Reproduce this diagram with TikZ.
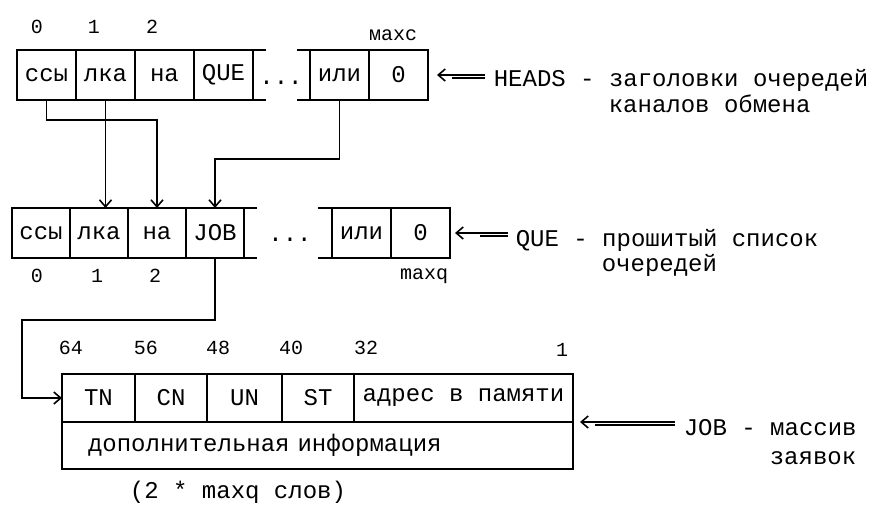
\documentclass[tikz,border=0pt]{standalone}
\usepackage{fontspec}
\setmainfont{Liberation Mono}
\usetikzlibrary{positioning, calc, arrows.meta}

\tikzset{
  cell/.style={draw, minimum height=50pt, minimum width=59pt, inner sep=0pt, outer sep=0pt},
  idx/.style={font=\fontsize{20}{24}\selectfont, inner sep=0pt},
  note/.style={anchor=base west, inner sep=0pt},
}

\begin{document}
\begin{tikzpicture}[x=1pt, y=-1pt, line width=1.6pt,
    >={Straight Barb[length=7pt, width=12pt]},
    font=\fontsize{24}{28}\selectfont]
    \useasboundingbox (0,0) rectangle (875,506);

    % HEADS (top row)
    \node[cell, anchor=west] (h0) at (17,75) {ссы};
    \node[cell, right=0pt of h0] (h1) {лка};
    \node[cell, right=0pt of h1] (h2) {на};
    \node[cell, right=0pt of h2] (h3) {QUE};
    \draw (h3.north east) -- ++(13,0) (h3.south east) -- ++(13,0);
    \node[anchor=base, inner sep=0pt] (hdots) at (281,84) {...};
    \node[cell, anchor=west] (h5) at (310,75) {или};
    \node[cell, right=0pt of h5] (h6) {0};
    \draw (h5.north west) -- ++(-13,0) (h5.south west) -- ++(-13,0);

    \node[idx] (h0i) at (37,27) {0};
    \node[idx] (h1i) at (94,27) {1};
    \node[idx] (h2i) at (152,27) {2};
    \node[idx] (hmax) at (393,35) {махс};

    \node[note] (hnote) at (493,86) {HEADS - заголовки очередей};
    \node[note] (hnote2) at (608,112) {каналов обмена};
    \draw[<-, shorten <=9pt, shorten >=8pt] (h6.east) -- (h6.east -| hnote.west);
    \draw[shorten <=24pt, shorten >=8pt] ([yshift=-3pt]h6.east) -- ([yshift=-3pt]h6.east -| hnote.west);

    % QUE (middle row)
    \node[cell, anchor=west, minimum width=58pt] (q0) at (12,233) {ссы};
    \node[cell, minimum width=58pt, right=0pt of q0] (q1) {лка};
    \node[cell, minimum width=58pt, right=0pt of q1] (q2) {на};
    \node[cell, minimum width=58pt, right=0pt of q2] (q3) {JOB};
    \draw (q3.north east) -- ++(13,0) (q3.south east) -- ++(13,0);
    \node[anchor=base, inner sep=0pt] (qdots) at (290,241) {...};
    \node[cell, anchor=west] (q5) at (332,233) {или};
    \node[cell, right=0pt of q5] (q6) {0};
    \draw (q5.north west) -- ++(-14,0) (q5.south west) -- ++(-14,0);

    \node[idx] (q0i) at (37,276) {0};
    \node[idx] (q1i) at (97,276) {1};
    \node[idx] (q2i) at (155,276) {2};
    \node[idx] (qmax) at (424,276) {maxq};

    \node[note] (qnote) at (515,246) {QUE - прошитый список};
    \node[note] (qnote2) at (601,271) {очередей};
    \draw[<-, shorten <=5pt, shorten >=7pt] (q6.east) -- (q6.east -| qnote.west);
    \draw[shorten <=30pt, shorten >=7pt] ([yshift=-3pt]q6.east) -- ([yshift=-3pt]q6.east -| qnote.west);

    % JOB (request array)
    \node[cell, anchor=west, minimum width=73pt, minimum height=48pt] (j0) at (62,398) {TN};
    \node[cell, minimum width=72pt, minimum height=48pt, right=0pt of j0] (j1) {CN};
    \node[cell, minimum width=75pt, minimum height=48pt, right=0pt of j1] (j2) {UN};
    \node[cell, minimum width=72pt, minimum height=48pt, right=0pt of j2] (j3) {ST};
    \node[cell, minimum width=219pt, minimum height=48pt, right=0pt of j3] (j4) {адрес в памяти};
    \node[draw, anchor=north west, text width=459pt, inner xsep=26pt, inner ysep=0pt,
          minimum height=47pt, align=left, outer sep=0pt] (jinfo) at (j0.south west)
          {дополнительная информация};

    \node[idx] (j64) at (71,348) {64};
    \node[idx] (j56) at (146,348) {56};
    \node[idx] (j48) at (218,348) {48};
    \node[idx] (j40) at (291,348) {40};
    \node[idx] (j32) at (366,348) {32};
    \node[idx] (j1i) at (562,350) {1};
    \node (jsize) at (238,492) {(2 * maxq слов)};

    \node[note] (jnote) at (683,435) {JOB - массив};
    \node[note] (jnote2) at (769,464) {заявок};
    \draw[<-, shorten <=7pt, shorten >=8pt] (j4.south east) -- (j4.south east -| jnote.west);
    \draw[shorten <=22pt, shorten >=8pt] ([yshift=-3pt]j4.south east) -- ([yshift=-3pt]j4.south east -| jnote.west);

    % links
    \draw[->] (h0.south) -- ++(0,20) -| (q2.north);
    \draw[->] (h1.south) -- (h1.south |- q1.north);
    \draw[->] (h5.south) -- ++(0,59) -| (q3.north);
    \coordinate (jbend) at (22,320);
    \draw[->] (q3.south) |- (jbend) |- (j0.west);
\end{tikzpicture}
\end{document}
